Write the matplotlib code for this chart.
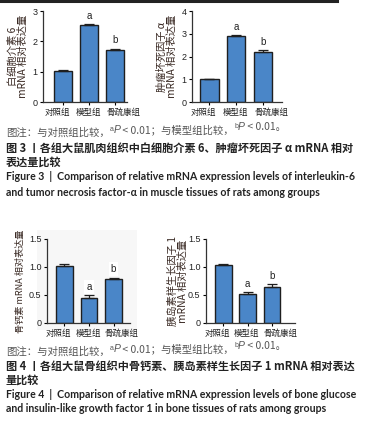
import numpy as np
import matplotlib.pyplot as plt
from matplotlib.lines import Line2D
from matplotlib.patches import Rectangle
from matplotlib.transforms import ScaledTranslation

W, H = 377, 421

groups = ['对照组', '模型组', '骨疏康组']
sig = ['', 'a', 'b']

# fig 3: muscle tissue
il6 = [1.03, 2.53, 1.71]
il6_err = [0.02, 0.04, 0.05]
tnf = [1.00, 2.90, 2.18]
tnf_err = [0.02, 0.05, 0.09]

# fig 4: bone tissue
bgp = [1.02, 0.45, 0.79]
bgp_err = [0.03, 0.05, 0.02]
igf = [1.03, 0.51, 0.64]
igf_err = [0.03, 0.04, 0.05]

CN = ['Noto Sans CJK SC', 'DejaVu Sans']
NUM = ['Liberation Sans', 'DejaVu Sans']
BLUE = '#4a86c8'

plt.rcParams['font.family'] = CN

fig = plt.figure(figsize=(W / 100, H / 100), dpi=100)
# full-figure overlay for captions
bg = fig.add_axes([0, 0, 1, 1])
bg.set_xlim(0, W)
bg.set_ylim(H, 0)
bg.axis('off')


def px_axes(left, top, right, bottom):
    return fig.add_axes([left / W, 1 - bottom / H, (right - left) / W, (bottom - top) / H])


def bar_panel(ax, vals, errs, ylim, yticks, yticklabels, ylabel, xlim, labelpad, ylsize):
    x = np.arange(len(vals))
    ax.bar(x, vals, width=0.68, color=BLUE, edgecolor='#1f1f1f', linewidth=1.0, zorder=2)
    ax.errorbar(x, vals, yerr=[np.zeros(len(errs)), errs], fmt='none', ecolor='#1f1f1f',
                elinewidth=0.9, capsize=3.5, capthick=0.9, zorder=3)
    for xi, v, e, s in zip(x, vals, errs, sig):
        if s:
            ax.annotate(s, (xi, v + e), xytext=(0, 6), textcoords='offset points',
                        ha='center', va='center', fontsize=7, family=NUM, color='#222',
                        bbox=dict(boxstyle='square,pad=0.2', fc='white', ec='none'))
    ax.set_xlim(*xlim)
    ax.set_ylim(*ylim)
    ax.tick_params(length=2.5, width=0.8, pad=1.5)
    ax.set_xticks(x)
    ax.set_xticklabels(groups, fontsize=6.1, color='#222')
    # labels sit a bit spread out in the original
    for lbl, dx in zip(ax.get_xticklabels(), [-6, -1, 8]):
        lbl.set_transform(lbl.get_transform() + ScaledTranslation(dx / 100, 0, fig.dpi_scale_trans))
    ax.set_yticks(yticks)
    ax.set_yticklabels(yticklabels, fontsize=6.5, family=NUM, color='#222')
    ax.set_ylabel(ylabel, fontsize=ylsize, color='#3a2a24', labelpad=labelpad, linespacing=1.05)
    for s in ['top', 'right']:
        ax.spines[s].set_visible(False)
    for s in ['left', 'bottom']:
        ax.spines[s].set_linewidth(0.9)
        ax.spines[s].set_color('#333')
    ax.patch.set_alpha(0)


# light background of the bottom-left image
bg.add_patch(Rectangle((37, 230), 100, 100, facecolor='#f7f7f7', edgecolor='none', zorder=0))

ax1 = px_axes(43, 11, 127, 102)
bar_panel(ax1, il6, il6_err, (0, 3), [0, 1, 2, 3], ['0', '1', '2', '3'],
          '白细胞介素 6\nmRNA 相对表达量', (-0.77, 2.46), 3, 7.4)

ax2 = px_axes(192, 11, 282, 102)
bar_panel(ax2, tnf, tnf_err, (0, 4), [0, 1, 2, 3, 4], ['0', '1', '2', '3', '4'],
          '肿瘤坏死因子 α\nmRNA 相对表达量', (-0.65, 2.71), 3, 7.4)

ax3 = px_axes(47, 239, 130, 323)
bar_panel(ax3, bgp, bgp_err, (0, 1.5), [0, 0.5, 1.0, 1.5], ['0', '0.5', '1.0', '1.5'],
          '骨钙素 mRNA 相对表达量', (-0.71, 2.67), 3, 6.6)

ax4 = px_axes(206, 239, 295, 323)
bar_panel(ax4, igf, igf_err, (0, 1.5), [0, 0.5, 1.0, 1.5], ['0', '0.5', '1.0', '1.5'],
          '胰岛素样生长因子 1\nmRNA 相对表达量', (-0.72, 2.95), 0, 7.4)

# top rule
bg.add_line(Line2D([0, 337], [1, 1], color='#222', lw=2.2))


def chain(x, y, pieces):
    prev = None
    for txt, kw in pieces:
        kw = dict(kw)
        raise_ = kw.pop('raise_', 0.5)
        if prev is None:
            prev = bg.text(x, y, txt, ha='left', va='center', **kw)
        else:
            prev = bg.annotate(txt, xy=(1, raise_), xycoords=prev, ha='left', va='center', **kw)
    return prev


def note(y):
    g = dict(fontsize=7.5, color='#555', family=CN)
    sup = dict(fontsize=5, color='#555', family=NUM, raise_=0.8)
    it = dict(fontsize=7.5, color='#555', family=NUM, style='italic')
    chain(6, y, [('图注：与对照组比较，', g), ('a', sup), ('P', it), (' < 0.01；与模型组比较，', g),
                 ('b', sup), ('P', it), (' < 0.01。', g)])


cap_cn = dict(fontsize=8, color='#222', family=CN, weight='bold')
cap_en = dict(fontsize=7.6, color='#222', family=['Lato', 'DejaVu Sans'], weight='bold')

note(133)
bg.text(6, 148, '图 3 丨各组大鼠肌肉组织中白细胞介素 6、肿瘤坏死因子 α mRNA 相对',
        va='center', **cap_cn)
bg.text(6, 162, '表达量比较', va='center', **cap_cn)
bg.text(6, 177, 'Figure 3  |  Comparison of relative mRNA expression levels of interleukin-6',
        va='center', **cap_en)
bg.text(6, 192, 'and tumor necrosis factor-α in muscle tissues of rats among groups',
        va='center', **cap_en)

note(352)
bg.text(6, 366, '图 4 丨各组大鼠骨组织中骨钙素、胰岛素样生长因子 1 mRNA 相对表达',
        va='center', **cap_cn)
bg.text(6, 380, '量比较', va='center', **cap_cn)
bg.text(6, 394, 'Figure 4  |  Comparison of relative mRNA expression levels of bone glucose',
        va='center', **cap_en)
bg.text(6, 409, 'and insulin-like growth factor 1 in bone tissues of rats among groups',
        va='center', **cap_en)

fig.savefig('out.png', dpi=100)
